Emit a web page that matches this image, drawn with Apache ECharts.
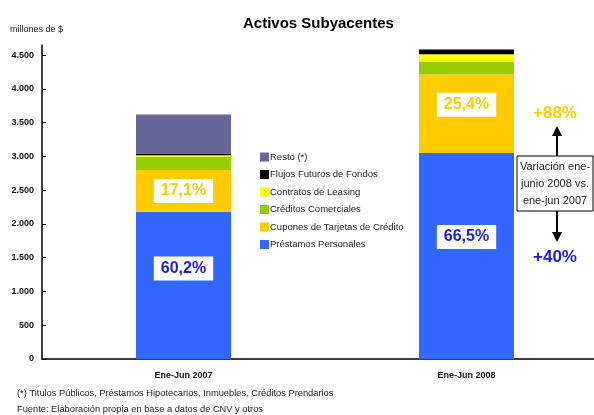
<!DOCTYPE html>
<html>
<head>
<meta charset="utf-8">
<script src="https://cdn.jsdelivr.net/npm/echarts@6/dist/echarts.min.js"></script>
<style>
  html, body { margin: 0; padding: 0; background: #fff; }
  #chart { width: 594px; height: 415px; }
</style>
</head>
<body>
<div id="chart"></div>
<script>
// datos (millones de $)
const categories = ["Ene-Jun 2007", "Ene-Jun 2008"];
const prestamos = [2179, 3049];
const cupones = [619, 1165];
const creditos = [194, 190];
const leasing = [25, 110];
const flujos = [25, 71];
const resto = [578, 0];
const yTicks = [0, 500, 1000, 1500, 2000, 2500, 3000, 3500, 4000, 4500];

const FONT = "Liberation Sans";
const BLUE_TXT = "#1c1ce0";
const GOLD = "#FFCC00";

const totals = categories.map((c, i) =>
  prestamos[i] + cupones[i] + creditos[i] + leasing[i] + flujos[i] + resto[i]);

const pct = (v, i) => (v / totals[i] * 100).toFixed(1).replace(".", ",") + "%";
const varPct = (arr) => "+" + Math.round((arr[1] / arr[0] - 1) * 100) + "%";

const boxLabel = (color, offsets) => (v, i) => ({
  value: v,
  label: {
    show: true,
    position: "inside",
    offset: [0, offsets[i]],
    formatter: () => pct(v, i),
    color: color,
    backgroundColor: "#fff",
    padding: [5, 7, 3, 7],
    fontSize: 16,
    fontWeight: "bold",
    fontFamily: FONT
  }
});

const mkSeries = (name, color, data) => ({
  name: name,
  type: "bar",
  stack: "total",
  barWidth: 95,
  itemStyle: { color: color },
  emphasis: { disabled: true },
  data: data
});

const chart = echarts.init(document.getElementById("chart"));

const option = {
  animation: false,
  textStyle: { fontFamily: FONT },
  title: {
    text: "Activos Subyacentes",
    left: 238,
    top: 11,
    textStyle: { fontSize: 15, fontWeight: "bold", color: "#000", fontFamily: FONT }
  },
  // el eje sigue mas alla del borde derecho, como en el original recortado
  grid: { left: 42, width: 566, top: 45, height: 314, outerBoundsMode: "none" },
  legend: {
    orient: "vertical",
    left: 260,
    top: 152,
    padding: 0,
    itemWidth: 9,
    itemHeight: 9,
    itemGap: 7.5,
    icon: "rect",
    selectedMode: false,
    textStyle: { fontSize: 9.5, color: "#222", fontFamily: FONT, padding: [0, 0, 0, -4] },
    data: ["Resto (*)", "Flujos Futuros de Fondos", "Contratos de Leasing",
      "Créditos Comerciales", "Cupones de Tarjetas de Crédito", "Préstamos Personales"]
  },
  xAxis: {
    type: "category",
    data: categories,
    axisLine: { lineStyle: { color: "#000", width: 1.5 } },
    axisTick: { inside: true, length: 4, lineStyle: { color: "#000" } },
    axisLabel: { fontSize: 9, fontWeight: "bold", color: "#111", margin: 12 }
  },
  yAxis: {
    type: "value",
    min: 0,
    max: 4650,
    interval: 500,
    splitLine: { show: false },
    axisLine: { show: true, lineStyle: { color: "#000", width: 1.5 } },
    axisTick: { show: true, inside: true, length: 4, customValues: yTicks, lineStyle: { color: "#000" } },
    axisLabel: {
      fontSize: 9, fontWeight: "bold", color: "#111", margin: 8,
      customValues: yTicks,
      formatter: (v) => v.toLocaleString("de-DE")
    }
  },
  series: [
    mkSeries("Préstamos Personales", "#3366FF", prestamos.map(boxLabel(BLUE_TXT, [-17, -19]))),
    mkSeries("Cupones de Tarjetas de Crédito", GOLD, cupones.map(boxLabel(GOLD, [0, -9]))),
    mkSeries("Créditos Comerciales", "#99CC00", creditos),
    mkSeries("Contratos de Leasing", "#FFFF00", leasing),
    mkSeries("Flujos Futuros de Fondos", "#000000", flujos),
    mkSeries("Resto (*)", "#666699", resto)
  ],
  graphic: [
    { type: "text", left: 10, top: 25,
      style: { text: "millones de $", fontSize: 9, fill: "#222", fontFamily: FONT } },
    { type: "text", x: 555, y: 113,
      style: { text: varPct(cupones), fontSize: 17, fontWeight: "bold", fill: GOLD,
        fontFamily: FONT, align: "center", verticalAlign: "middle" } },
    { type: "text", x: 555, y: 257,
      style: { text: varPct(prestamos), fontSize: 17, fontWeight: "bold", fill: BLUE_TXT,
        fontFamily: FONT, align: "center", verticalAlign: "middle" } },
    { type: "line", shape: { x1: 557, y1: 156, x2: 557, y2: 134 },
      style: { stroke: "#000", lineWidth: 2 } },
    { type: "polygon", shape: { points: [[557, 126], [552, 136], [562, 136]] },
      style: { fill: "#000" } },
    { type: "line", shape: { x1: 557, y1: 211, x2: 557, y2: 234 },
      style: { stroke: "#000", lineWidth: 2 } },
    { type: "polygon", shape: { points: [[557, 242], [552, 232], [562, 232]] },
      style: { fill: "#000" } },
    { type: "rect", shape: { x: 517, y: 156, width: 76, height: 55 },
      style: { fill: "#fff", stroke: "#000", lineWidth: 1 } },
    { type: "text", x: 555, y: 183.5,
      style: { text: "Variación ene-\njunio 2008 vs.\nene-jun 2007", fontSize: 11,
        lineHeight: 17, fill: "#222", fontFamily: FONT, align: "center", verticalAlign: "middle" } },
    { type: "text", left: 17, top: 389,
      style: { text: "(*) Titulos Públicos, Préstamos Hipotecarios, Inmuebles, Créditos Prendarios",
        fontSize: 9.3, fill: "#222", fontFamily: FONT } },
    { type: "text", left: 17, top: 405,
      style: { text: "Fuente: Elaboración propia en base a datos de CNV y otros",
        fontSize: 9.3, fill: "#222", fontFamily: FONT } }
  ]
};

chart.setOption(option);
</script>
</body>
</html>
